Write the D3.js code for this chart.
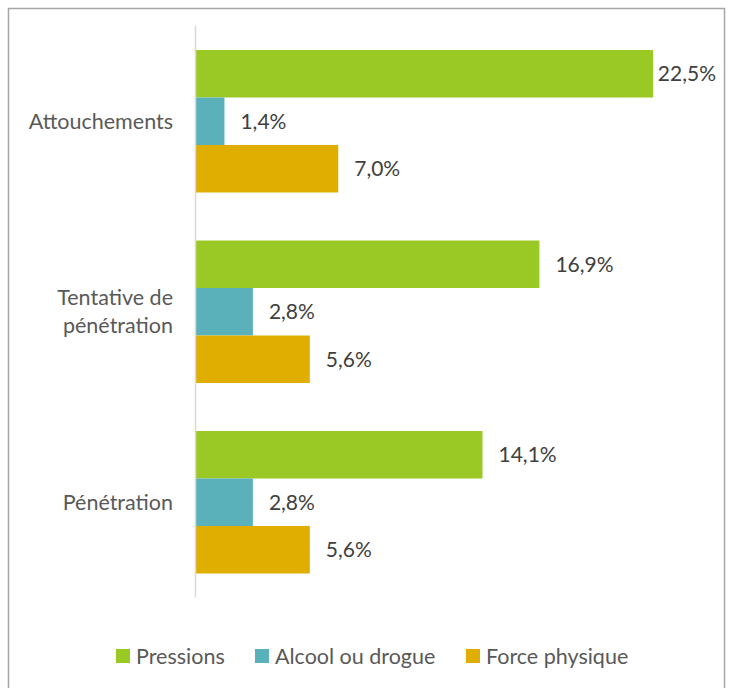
<!DOCTYPE html>
<html>
<head>
<meta charset="utf-8">
<script src="https://cdn.jsdelivr.net/npm/d3@7"></script>
<style>
  body { margin: 0; background: #fff; }
  text { font-family: Lato, "Open Sans", sans-serif; }
</style>
</head>
<body>
<div id="chart"></div>
<script>
const categories = ["Attouchements", "Tentative de|pénétration", "Pénétration"];
const seriesNames = ["Pressions", "Alcool ou drogue", "Force physique"];
const pressions = [22.5, 16.9, 14.1];
const alcool = [1.4, 2.8, 2.8];
const force = [7.0, 5.6, 5.6];
const colors = ["#9AC825", "#5BB1BA", "#DFAE00"];

const [width, height] = [733, 688];
const svg = d3.select("#chart").append("svg").attr("width", width).attr("height", height);

// chart frame
svg.append("rect")
  .attr("x", 8.5).attr("y", 8.5)
  .attr("width", 716).attr("height", 700)
  .attr("fill", "none").attr("stroke", "#a6a6a6").attr("stroke-width", 1.5);

const series = [pressions, alcool, force];

const y = d3.scaleBand().domain(categories).range([26, 597.5]).paddingInner(0.252).paddingOuter(0.126);
const yInner = d3.scaleBand().domain(seriesNames).range([0, y.bandwidth()]);
const x = d3.scaleLinear().domain([0, 25]).range([196, 704]);

const groups = svg.append("g").selectAll("g").data(categories).enter()
  .append("g").attr("transform", d => `translate(0, ${y(d)})`);

groups.each(function(cat, ci) {
  const g = d3.select(this);
  seriesNames.forEach((s, si) => {
    const v = series[si][ci];
    g.append("rect")
      .attr("x", x(0))
      .attr("y", yInner(s))
      .attr("width", x(v) - x(0))
      .attr("height", yInner.bandwidth())
      .attr("fill", colors[si]);
    const label = g.append("text")
      .attr("x", x(v) + 16)
      .attr("y", yInner(s) + yInner.bandwidth() / 2)
      .attr("dy", "0.35em")
      .attr("font-size", 21)
      .attr("fill", "#404040")
      .text(v.toFixed(1).replace(".", ",") + "%");
    // keep labels inside the plot frame
    const w = label.node().getComputedTextLength();
    if (x(v) + 16 + w > 716) label.attr("x", 716 - w);
  });
});

// axis line
svg.append("line")
  .attr("x1", x(0) - 0.5).attr("x2", x(0) - 0.5)
  .attr("y1", 26).attr("y2", 597.5)
  .attr("stroke", "#d9d9d9").attr("stroke-width", 1.5);

// category labels
const catLabels = svg.append("g").selectAll("text").data(categories).enter()
  .append("text")
  .attr("text-anchor", "end")
  .attr("font-size", 21.5)
  .attr("fill", "#595959")
  .attr("transform", d => `translate(173, ${y(d) + y.bandwidth() / 2})`);
catLabels.each(function(d) {
  const lines = d.split("|");
  const t = d3.select(this);
  lines.forEach((l, i) => {
    t.append("tspan")
      .attr("x", 0)
      .attr("y", (i - (lines.length - 1) / 2) * 28)
      .attr("dy", "0.35em")
      .text(l);
  });
});

// legend
const legendX = [116, 255, 466];
const legend = svg.append("g").selectAll("g").data(seriesNames).enter()
  .append("g").attr("transform", (d, i) => `translate(${legendX[i]}, 656)`);
legend.append("rect")
  .attr("x", 0).attr("y", -7).attr("width", 14).attr("height", 14)
  .attr("fill", (d, i) => colors[i]);
legend.append("text")
  .attr("x", 20).attr("y", 0).attr("dy", "0.35em")
  .attr("font-size", 21.5)
  .attr("fill", "#595959")
  .text(d => d);
</script>
</body>
</html>
